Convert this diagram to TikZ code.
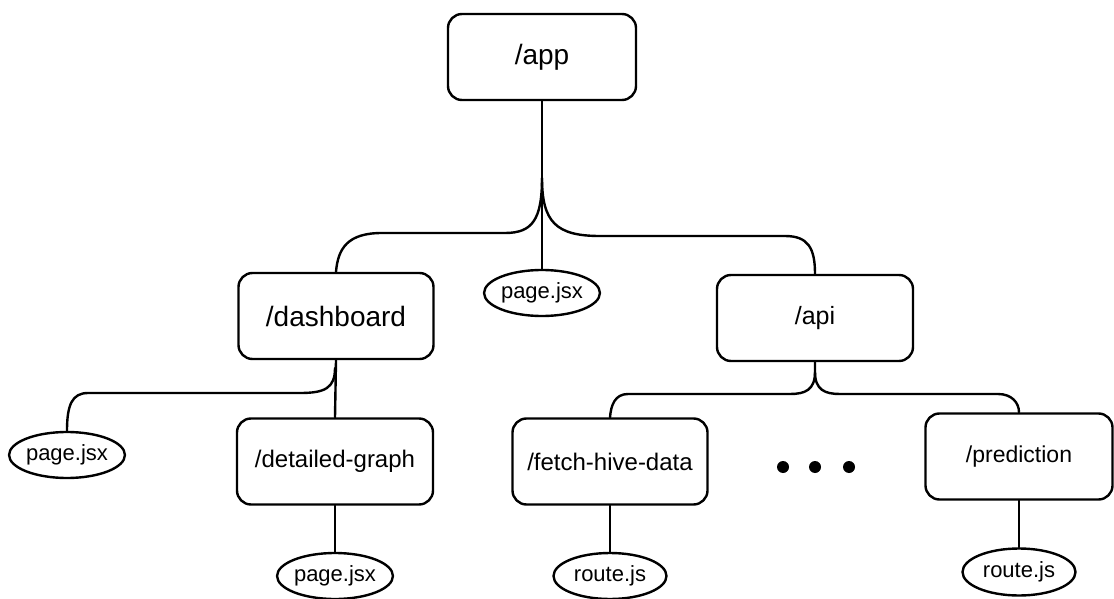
\documentclass[tikz,border=0pt]{standalone}
\usepackage{fontspec}
\setmainfont{Liberation Sans}
\usetikzlibrary{shapes.geometric}
\begin{document}
\begin{tikzpicture}[x=1pt, y=-1pt, line width=2.4pt, line cap=round, line join=round,
    dir/.style={draw, rectangle, rounded corners=14pt, minimum width=#1, minimum height=86pt, inner sep=0pt},
    file/.style={draw, ellipse, minimum width=113pt, minimum height=46pt, inner sep=0pt, font=\fontsize{22}{24}\selectfont},
    dot/.style={circle, fill, inner sep=0pt, minimum size=12pt}]
\useasboundingbox (0,0) rectangle (1114,599);
\node[dir=188pt, font=\fontsize{28}{30}\selectfont] (app) at (542,57) {/app};
\node[dir=195pt, font=\fontsize{28}{30}\selectfont] (dash) at (336,316) {/dashboard};
\node[file] (midpage) at (542,293) {page.jsx};
\node[dir=196pt, font=\fontsize{25}{27}\selectfont] (api) at (815,318) {/api};
\node[file] (dashpage) at (67,455) {page.jsx};
\node[dir=196pt, font=\fontsize{24}{26}\selectfont] (graph) at (335,461.5) {/detailed-graph};
\node[file] (graphpage) at (335,576) {page.jsx};
\node[dir=195pt, font=\fontsize{24}{26}\selectfont] (fetch) at (610,461.5) {/fetch-hive-data};
\node[file] (fetchroute) at (610,576) {route.js};
\node[dir=187pt, font=\fontsize{23}{25}\selectfont] (pred) at (1019,456.5) {/prediction};
\node[file, minimum height=47pt] (predroute) at (1019,572) {route.js};
\node[dot] (dota) at (783,467) {};
\node[dot] (dotb) at (815,467) {};
\node[dot] (dotc) at (849,467) {};

\coordinate (appfork) at (542,178);
\coordinate (dashfork) at (335,368);
\coordinate (apifork) at (815,372);

\draw (app.south) -- (midpage.north);
\draw (appfork) .. controls (542,220) and (532,233) .. (505,233) -- (382,233) .. controls (348,233) and (338,248) .. (dash.north);
\draw (appfork) .. controls (542,222) and (556,236) .. (600,236) -- (785,236) .. controls (808,236) and (815,248) .. (api.north);
\draw (dash.south) -- (graph.north);
\draw (dashfork) .. controls (335,388) and (325,393) .. (300,393) -- (88,393) .. controls (72,393) and (67,405) .. (dashpage.north);
\draw (graph.south) -- (graphpage.north);
\draw (api.south) -- (apifork) .. controls (815,390) and (805,394) .. (790,394) -- (628,394) .. controls (615,394) and (611,405) .. (fetch.north);
\draw (apifork) .. controls (815,390) and (825,394) .. (840,394) -- (998,394) .. controls (1012,394) and (1019,403) .. (pred.north);
\draw (fetch.south) -- (fetchroute.north);
\draw (pred.south) -- (predroute.north);
\end{tikzpicture}
\end{document}
